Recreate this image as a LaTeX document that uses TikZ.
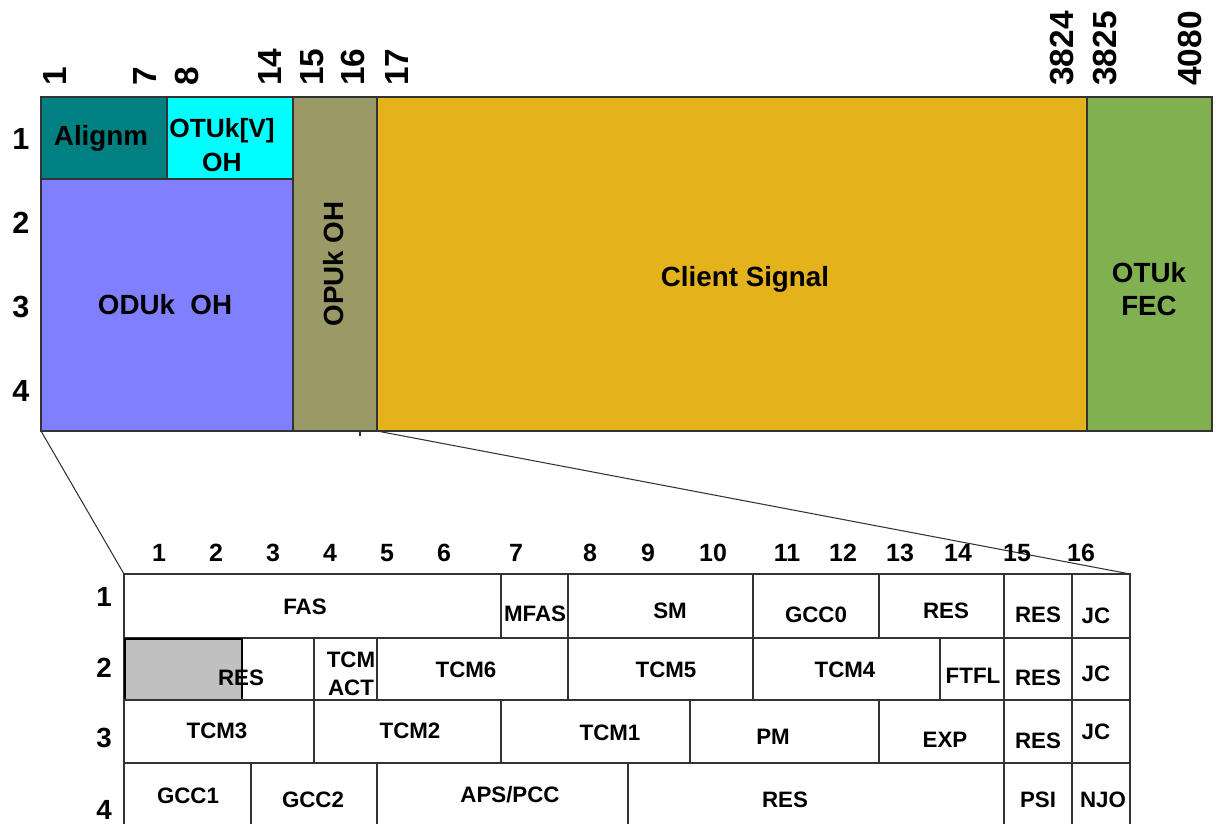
\documentclass[tikz,border=0pt]{standalone}
\usepackage{fontspec}
\setmainfont{Liberation Sans}
\usetikzlibrary{positioning}
\definecolor{alignteal}{RGB}{0,128,128}
\definecolor{otucyan}{RGB}{0,255,255}
\definecolor{odublue}{RGB}{128,128,255}
\definecolor{opuolive}{RGB}{155,153,102}
\definecolor{clientgold}{RGB}{228,178,26}
\definecolor{fecgreen}{RGB}{128,176,80}
\definecolor{resgray}{RGB}{192,192,192}

\begin{document}
\begin{tikzpicture}[x=0.02cm, y=-0.02cm,
    box/.style={draw=black!80, line width=0.6pt},
    collab/.style={font=\bfseries\fontsize{19}{19}\selectfont, rotate=90, anchor=west, inner sep=0pt},
    rowlab/.style={font=\bfseries\fontsize{17.4}{18}\selectfont},
    bigtxt/.style={font=\bfseries\fontsize{15.8}{19}\selectfont, align=center, inner sep=0pt},
    numlab/.style={font=\bfseries\fontsize{14.2}{15}\selectfont},
    smalltxt/.style={font=\bfseries\fontsize{12.7}{16}\selectfont, align=center, inner sep=0pt}]
\useasboundingbox (0,0) rectangle (1221,824);

% OTU frame
\draw[box, fill=alignteal] (41,97) rectangle (167,179);
\draw[box, fill=otucyan] (167,97) rectangle (293,179);
\draw[box, fill=odublue] (41,179) rectangle (293,431);
\draw[box, fill=opuolive] (293,97) rectangle (377,431);
\draw[box, fill=clientgold] (377,97) rectangle (1087,431);
\draw[box, fill=fecgreen] (1087,97) rectangle (1212,431);
\draw[box] (360,431) -- (360,436);

\node[bigtxt] (alignm) at (101,138) {Alignm};
\node[bigtxt, font=\bfseries\fontsize{15}{19}\selectfont] (otuoh) at (222,145) {OTUk[V]\\OH};
\node[bigtxt] (oduoh) at (165,305) {ODUk\ \ OH};
\node[bigtxt, rotate=90] (opuoh) at (334,264) {OPUk OH};
\node[bigtxt] (client) at (745,279) {Client Signal};
\node[bigtxt] (fec) at (1149,289) {OTUk\\FEC};

% column numbers
\node[collab] (c1) at (55,86) {1};
\node[collab] (c7) at (145,86) {7};
\node[collab] (c8) at (187,86) {8};
\node[collab] (c14) at (270,86) {14};
\node[collab] (c15) at (312,86) {15};
\node[collab] (c16) at (353,86) {16};
\node[collab] (c17) at (397,86) {17};
\node[collab] (c3824) at (1062,86) {3824};
\node[collab] (c3825) at (1105,86) {3825};
\node[collab] (c4080) at (1190,86) {4080};

% row numbers
\node[rowlab] (r1) at (21,139) {1};
\node[rowlab] (r2) at (21,223) {2};
\node[rowlab] (r3) at (21,307) {3};
\node[rowlab] (r4) at (21,391) {4};

% zoom lines
\coordinate (topbl) at (41,431);
\coordinate (topbr) at (377,431);
\coordinate (lowtl) at (124,574);
\coordinate (lowtr) at (1130,574);
\draw[black!80, line width=0.6pt] (topbl) -- (lowtl);
\draw[black!80, line width=0.6pt] (topbr) -- (lowtr);

% overhead detail, row 1
\draw[box] (124,574) rectangle (501,638);
\draw[box] (501,574) rectangle (568,638);
\draw[box] (568,574) rectangle (753,638);
\draw[box] (753,574) rectangle (879,638);
\draw[box] (879,574) rectangle (1004,638);
\draw[box] (1004,574) rectangle (1072,638);
\draw[box] (1072,574) rectangle (1130,638);
% row 2
\draw[box] (124,638) rectangle (314,700);
\draw[line width=1pt, fill=resgray] (125,639) rectangle (242,700);
\draw[box] (314,638) rectangle (377,700);
\draw[box] (377,638) rectangle (568,700);
\draw[box] (568,638) rectangle (753,700);
\draw[box] (753,638) rectangle (940,700);
\draw[box] (940,638) rectangle (1004,700);
\draw[box] (1004,638) rectangle (1072,700);
\draw[box] (1072,638) rectangle (1130,700);
% row 3
\draw[box] (124,700) rectangle (314,763);
\draw[box] (314,700) rectangle (501,763);
\draw[box] (501,700) rectangle (690,763);
\draw[box] (690,700) rectangle (879,763);
\draw[box] (879,700) rectangle (1004,763);
\draw[box] (1004,700) rectangle (1072,763);
\draw[box] (1072,700) rectangle (1130,763);
% row 4 (cut at the bottom)
\draw[box] (124,824) -- (124,763) -- (1130,763) -- (1130,824);
\foreach \xx in {251,377,628,1004,1072}
  \draw[box] (\xx,763) -- (\xx,824);

\node[smalltxt] (fas) at (305,607) {FAS};
\node[smalltxt] (mfas) at (535,614) {MFAS};
\node[smalltxt] (sm) at (670,611) {SM};
\node[smalltxt] (gcc0) at (816,615) {GCC0};
\node[smalltxt] (resa) at (946,611) {RES};
\node[smalltxt] (resb) at (1038,615) {RES};
\node[smalltxt] (jca) at (1096,616) {JC};

\node[smalltxt] (resc) at (241,678) {RES};
\node[smalltxt] (tcmact) at (351,674) {TCM\\ACT};
\node[smalltxt] (tcm6) at (466,670) {TCM6};
\node[smalltxt] (tcm5) at (666,670) {TCM5};
\node[smalltxt] (tcm4) at (845,670) {TCM4};
\node[smalltxt] (ftfl) at (973,676) {FTFL};
\node[smalltxt] (resd) at (1038,678) {RES};
\node[smalltxt] (jcb) at (1096,674) {JC};

\node[smalltxt] (tcm3) at (217,731) {TCM3};
\node[smalltxt] (tcm2) at (410,731) {TCM2};
\node[smalltxt] (tcm1) at (610,733) {TCM1};
\node[smalltxt] (pm) at (773,737) {PM};
\node[smalltxt] (exp) at (945,740) {EXP};
\node[smalltxt] (rese) at (1038,741) {RES};
\node[smalltxt] (jcc) at (1096,732) {JC};

\node[smalltxt] (gcc1) at (188,796) {GCC1};
\node[smalltxt] (gcc2) at (313,800) {GCC2};
\node[smalltxt] (apspcc) at (510,795) {APS/PCC};
\node[smalltxt] (resf) at (785,800) {RES};
\node[smalltxt] (psi) at (1038,800) {PSI};
\node[smalltxt] (njo) at (1103,800) {NJO};

% detail column numbers
\foreach \num/\xx in {1/159,2/216,3/273,4/330,5/387,6/444,7/516,8/590,
                      9/648,10/713,11/787,12/843,13/900,14/958,15/1017,16/1081}
  \node[numlab] (d\num) at (\xx,553) {\num};

% detail row numbers
\node[numlab, font=\bfseries\fontsize{15.8}{16}\selectfont] (dr1) at (104,597) {1};
\node[numlab, font=\bfseries\fontsize{15.8}{16}\selectfont] (dr2) at (104,668) {2};
\node[numlab, font=\bfseries\fontsize{15.8}{16}\selectfont] (dr3) at (104,738) {3};
\node[numlab, font=\bfseries\fontsize{15.8}{16}\selectfont] (dr4) at (104,810) {4};
\end{tikzpicture}
\end{document}
